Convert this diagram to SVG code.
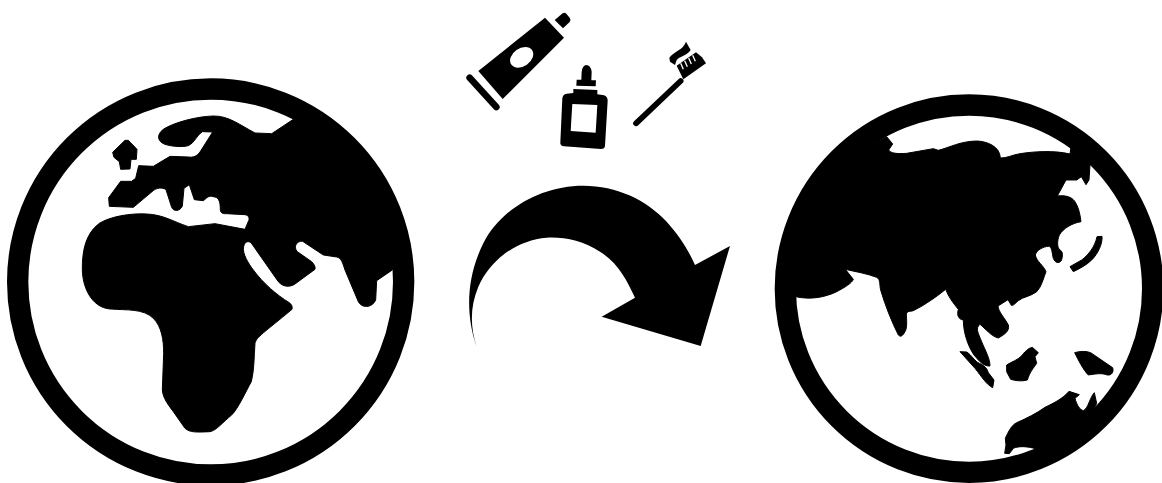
<svg xmlns="http://www.w3.org/2000/svg" width="1162" height="483" viewBox="0 0 1162 483">
<style>
.k{fill:#000}
.land{fill:#000;stroke:#000;stroke-width:3;stroke-linejoin:round}
.ring{fill:#fff;stroke:#000;stroke-width:64}
.w{fill:#fff}
</style>
<rect width="1162" height="483" fill="#fff"/>
<g id="globe-left" transform="translate(0 70) scale(.33333)">
<circle class="ring" cx="632" cy="636" r="579"/>
<path class="land" d="M880 148L815 191L765 189C720 165 685 137 640 138C590 139 520 158 490 178C468 195 473 215 495 223C520 231 550 231 565 227C585 218 590 195 607 185L638 186L600 246C590 259 580 263 565 261L510 259L460 289L416 287L407 325L395 334L362 334L326 383L328 409L400 412L462 360C475 352 495 352 499 362L515 412C520 425 540 425 547 408L552 355L568 344L583 389L610 392C620 385 625 375 640 380C655 382 661 390 661 420C662 430 670 432 680 431L735 434C747 436 749 445 746 452L735 478L645 461L565 470C520 455 490 434 440 432C390 429 330 440 298 460C258 490 246 540 247 600C248 650 273 712 330 717C380 721 430 715 460 745C485 770 491 810 491 850L487 960C489 985 505 1005 520 1025L555 1075C570 1088 590 1087 630 1085C650 1081 670 1055 695 1035C715 1015 737 965 754 935C763 900 762 860 765 820C770 800 790 790 876 718C878 710 875 703 868 698C830 675 790 640 760 600C745 580 726 550 731 530C733 515 745 512 753 518L835 635C850 652 870 652 885 642L945 598C947 590 942 582 935 575L892 545C878 530 892 511 908 514L970 555L1010 561C1025 564 1028 580 1035 600L1075 695C1085 714 1115 716 1127 690L1130 632L1177 600L1190 500L1160 390L1090 270L950 155Z"/>
<path class="land" d="M338 247L375 211L385 211L411 238L409 268L393 268L390 297L362 298L358 275L342 262Z"/>
</g>
<g id="toothpaste" transform="translate(450 0) scale(.33333)">
<path class="k" d="M85 213L285 53L342 113L158 297Z"/>
<ellipse class="w" cx="215" cy="172" rx="38" ry="27" transform="rotate(-35 215 172)"/>
<path class="k" d="M314 60L338 40Q344 36 349 41L359 53Q364 60 359 66L339 85Z"/>
<path d="M59 233L139 321" stroke="#000" stroke-width="20" stroke-linecap="round" fill="none"/>
</g>
<g id="glue" transform="translate(450 0) scale(.33333)">
<path class="k" d="M370 267L442 270V283L462 286Q473 290 473 302L465 437Q464 447 453 447L342 439Q330 438 331 427L337 295Q338 283 350 281L370 279ZM380 239L394 239L395 215Q398 195 409 195Q422 195 425 215L424 241L438 241L437 259L379 257Z"/>
<path class="w" d="M367 312L442 315L437 398L362 393Z"/>
</g>
<g id="toothbrush" transform="translate(450 0) scale(.33333)">
<path d="M558 370L692 243" stroke="#000" stroke-width="17" stroke-linecap="round" fill="none"/>
<path class="k" d="M680 197L738 157L756 172L768 190L700 238Z"/>
<path class="k" d="M658 173C670 155 700 150 708 125L722 150C710 168 690 168 680 180L675 195L660 185Z"/>
<path d="M692 190L700 208M704 182L712 200M716 174L724 192M728 166L736 184" stroke="#fff" stroke-width="4" fill="none"/>
</g>
<g id="arrow" transform="translate(450 0) scale(.33333)">
<path class="k" d="M80 1040C45 940 50 830 100 730C150 630 270 557 400 557C500 557 590 600 650 665C690 710 715 750 735 795L840 738L752 1038L455 950L555 893C530 840 505 790 450 755C400 722 340 710 290 713C200 720 120 780 85 860C60 920 60 980 80 1040Z"/>
</g>
<g id="globe-right" transform="translate(770 70) scale(.33333)">
<circle class="ring" cx="597" cy="656" r="551"/>
<path class="land" d="M350 200L368 222L356 240C362 250 380 252 410 250L490 236L505 241C540 232 570 214 620 213C650 214 690 228 691 264C710 265 725 255 750 251C790 245 850 240 900 252L903 232L940 255L960 284L957 330L948 344L934 320L920 330L888 330L862 378C885 375 905 380 915 395C925 410 930 430 933 455C905 460 880 475 868 495C860 515 862 535 870 540C880 545 878 560 874 572C865 582 855 578 850 565C845 550 848 530 835 529C820 530 800 540 796 555C800 575 820 585 828 605C820 625 815 650 800 665C780 680 760 680 745 692C735 700 730 708 724 706L714 689L684 708C685 725 705 745 715 765C720 785 700 795 685 804C665 800 645 775 630 763C615 775 625 790 635 815C645 840 660 865 660 888C640 890 625 870 612 855C595 830 580 790 580 750C565 748 560 735 565 718C550 700 535 680 527 658C500 680 465 705 430 722C420 725 412 722 409 732C410 750 412 775 405 785C398 798 392 802 385 795C365 755 345 705 332 660C328 645 332 628 320 622C290 610 255 605 226 598L250 628C245 640 225 652 200 665C165 682 120 690 78 680L20 660L60 450L200 280Z"/>
<path class="land" d="M570 845L590 846C605 855 615 875 628 880C640 885 650 892 655 908L672 930L668 953C650 945 635 920 615 895Z"/>
<path class="land" d="M710 885C725 875 745 870 757 855C768 840 780 833 787 832L805 848L795 860L800 880C790 895 780 905 772 930C755 935 735 932 722 928L710 905Z"/>
<path class="land" d="M914 848C930 843 950 843 962 848L1028 893C1032 905 1025 917 1012 915C995 908 975 912 955 915C940 900 925 870 914 848Z"/>
<path class="land" d="M706 1105C715 1085 725 1065 740 1058C770 1045 800 1030 825 1012C850 1000 880 985 897 964L928 974L915 985C920 1005 930 1020 940 1022C955 1015 958 985 973 968L980 1000L970 1022L1000 1050L900 1120L800 1137C770 1128 745 1128 730 1135L718 1151L704 1150L708 1125Z"/>
<path class="land" d="M900 590L935 570C955 555 975 530 981 500L996 499C998 520 985 550 965 570C950 585 930 595 910 605Z"/>
</g>
</svg>
